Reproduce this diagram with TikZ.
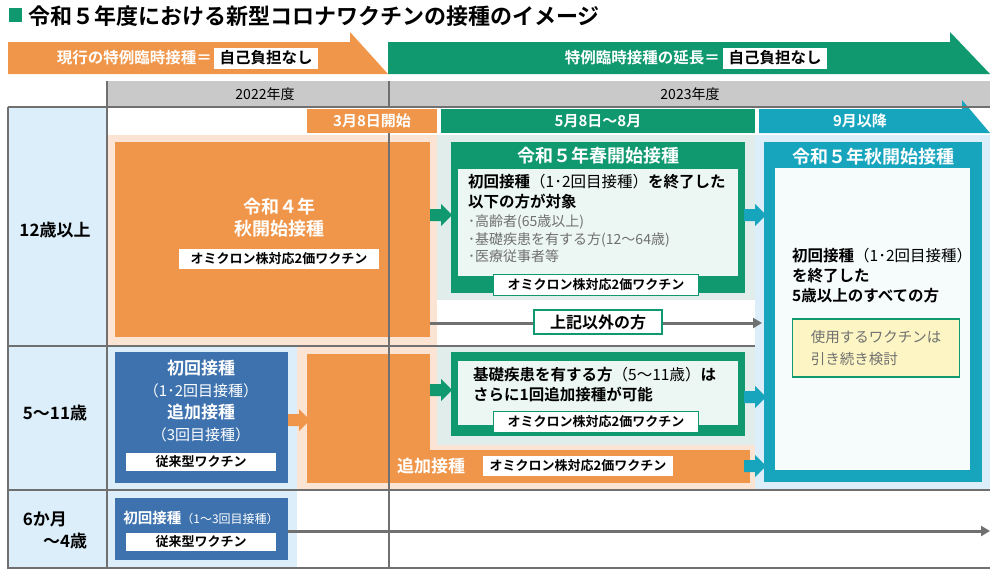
\documentclass[tikz,border=0pt]{standalone}
\usepackage{fontspec}
\setmainfont{Noto Sans CJK JP}
\newfontfamily\bfj{Noto Sans CJK JP Bold}
\usetikzlibrary{arrows.meta}
\definecolor{org}{HTML}{F0964B}
\definecolor{grn}{HTML}{10996F}
\definecolor{teal}{HTML}{17A5BE}
\definecolor{blu}{HTML}{3D72AE}
\definecolor{lblu}{HTML}{DCEEFA}
\definecolor{peach}{HTML}{FCE4D4}
\definecolor{lgrn}{HTML}{E0EDEA}
\definecolor{gry}{HTML}{C9C9C9}
\definecolor{dgry}{HTML}{707070}
\definecolor{yel}{HTML}{FDF6C4}
\tikzset{
 x=1pt,y=-1pt,
 lab/.style={fill=white,inner sep=2pt,font=\bfj\fontsize{13}{14}\selectfont},
 wt/.style={text=white,font=\bfj\fontsize{18}{22}\selectfont,align=center},
}
\newcommand{\fatarrow}[3]{\fill[#3] (#1-3,#2-6) -- (#1+8,#2-6) -- (#1+8,#2-11) -- (#1+19,#2) -- (#1+8,#2+11) -- (#1+8,#2+6) -- (#1-3,#2+6) -- cycle;}
\begin{document}
\begin{tikzpicture}
\useasboundingbox (0,0) rectangle (1000,573);
\fill[white] (0,0) rectangle (1000,573);
% title
\fill[grn] (9,8) rectangle (22,22);
\node[anchor=west,inner sep=0,font=\bfj\fontsize{22}{24}\selectfont] (title) at (28,16) {令和５年度における新型コロナワクチンの接種のイメージ};
% banners
\fill[org] (8,42) -- (350,42) -- (350,32) -- (388,74) -- (8,74) -- cycle;
\node[anchor=east,text=white,font=\bfj\fontsize{15.5}{16}\selectfont,inner sep=0] (b1) at (212,58) {現行の特例臨時接種＝};
\node[lab,font=\bfj\fontsize{15.5}{16}\selectfont,minimum width=104pt,minimum height=21pt] (b1b) at (266,58) {自己負担なし};
\fill[grn] (388,42) -- (950,42) -- (950,32) -- (990,74) -- (388,74) -- cycle;
\node[anchor=east,text=white,font=\bfj\fontsize{15.5}{16}\selectfont,inner sep=0] (b2) at (720,58) {特例臨時接種の延長＝};
\node[lab,font=\bfj\fontsize{15.5}{16}\selectfont,minimum width=104pt,minimum height=21pt] (b2b) at (775,58) {自己負担なし};
% year bar
\fill[gry] (107,81) rectangle (990,106);
\node[font=\fontsize{14}{15}\selectfont] (y22) at (265,94) {2022年度};
\node[font=\fontsize{14}{15}\selectfont] (y23) at (690,94) {2023年度};
% row label column
\fill[lblu] (8,107) rectangle (107,568);
% backgrounds
\fill[peach] (107,135) rectangle (437,346);
\fill[lgrn] (437,135) rectangle (755,300);
\fill[white] (437,300) rectangle (755,346);
\fill[lblu] (755,135) rectangle (990,490);
\fill[lblu] (107,346) rectangle (297,490);
\fill[peach] (297,346) rectangle (437,490);
\fill[lgrn] (437,346) rectangle (755,445);
\fill[peach] (437,445) rectangle (755,490);
\fill[lblu] (107,490) rectangle (297,568);
% headers
\fill[org] (307,109) rectangle (437,133);
\node[wt,font=\bfj\fontsize{15}{16}\selectfont] (h1) at (372,121) {3月8日開始};
\fill[grn] (441,109) rectangle (755,133);
\node[wt,font=\bfj\fontsize{15}{16}\selectfont] (h2) at (598,121) {5月8日～8月};
\fill[teal] (759,109) -- (962,109) -- (962,100) -- (990,133) -- (759,133) -- cycle;
\node[wt,font=\bfj\fontsize{15}{16}\selectfont] (h3) at (860,121) {9月以降};
% grid lines
\draw[dgry,line width=1.2pt] (8,107) -- (990,107);
\draw[dgry,line width=1.2pt] (8,107) -- (8,568) -- (990,568);
\draw[dgry,line width=1.2pt] (8,346) -- (755,346);
\draw[dgry,line width=1.2pt] (8,490) -- (990,490);
\draw[dgry,line width=1.2pt] (107,81) -- (107,568);
% row labels
\node[font=\bfj\fontsize{17}{19}\selectfont] (r1) at (55,230) {12歳以上};
\node[font=\bfj\fontsize{17}{19}\selectfont] (r2) at (55,413) {5～11歳};
\node[font=\bfj\fontsize{17}{22}\selectfont,align=left] (r3) at (55,530) {6か月\\\hspace*{1.2em}～4歳};
% Reiwa4 box
\fill[org] (115,142) rectangle (430,337);
\node[wt] (r4) at (279,218) {令和４年\\秋開始接種};
\node[lab,minimum width=200pt,minimum height=20pt] (r4v) at (279,259) {オミクロン株対応2価ワクチン};
% row2 orange
\fill[org] (307,354) rectangle (430,483);
\fill[org] (307,450) rectangle (750,483);
\node[wt,anchor=west,font=\bfj\fontsize{17}{19}\selectfont,inner sep=0] (tsuika) at (397,466) {追加接種};
\node[lab,minimum width=190pt,minimum height=20pt] (tsv) at (578,466) {オミクロン株対応2価ワクチン};
% blue boxes
\fill[blu] (115,352) rectangle (288,483);
\node[text=white,align=center,font=\fontsize{15}{22}\selectfont] (bl) at (201,401) {{\bfj\fontsize{17}{22}\selectfont 初回接種}\\（1･2回目接種）\\{\bfj\fontsize{17}{22}\selectfont 追加接種}\\（3回目接種）};
\node[lab,minimum width=150pt,minimum height=18pt] (blv) at (201,462) {従来型ワクチン};
\fill[blu] (115,498) rectangle (288,560);
\node[text=white,font=\fontsize{12}{13}\selectfont,inner sep=0] (bl3) at (201,518) {{\bfj\fontsize{14.5}{15}\selectfont 初回接種}（1～3回目接種）};
\node[lab,minimum width=150pt,minimum height=18pt] (bl3v) at (201,542) {従来型ワクチン};
% vertical divider
\draw[dgry,line width=1.2pt] (389,81) -- (389,106);
\draw[dgry,line width=1.2pt] (389,133) -- (389,568);
% green boxes
\fill[grn] (451,142) rectangle (745,293);
\node[wt] (g1t) at (598,156) {令和５年春開始接種};
\fill[white!92!grn] (458,169) rectangle (738,276);
\node[anchor=north west,align=left,inner sep=0,font=\bfj\fontsize{15.5}{20}\selectfont] (g1a) at (468,174) {初回接種{\normalfont（1･2回目接種）}を終了した\\以下の方が対象};
\node[anchor=north west,align=left,inner sep=0,text=dgry,font=\fontsize{14}{17.5}\selectfont] (g1b) at (468,215) {･高齢者(65歳以上)\\･基礎疾患を有する方(12～64歳)\\･医療従事者等};
\node[lab,draw=grn,line width=1.5pt,minimum width=205pt,minimum height=21pt] (g1v) at (596,285) {オミクロン株対応2価ワクチン};
\fill[grn] (451,352) rectangle (745,436);
\fill[white!92!grn] (458,361) rectangle (738,425);
\node[anchor=north west,align=left,inner sep=0,font=\bfj\fontsize{15.5}{20}\selectfont] (g2a) at (473,367) {基礎疾患を有する方{\normalfont（5～11歳）}は\\さらに1回追加接種が可能};
\node[lab,draw=grn,line width=1.5pt,minimum width=205pt,minimum height=21pt] (g2v) at (596,422) {オミクロン株対応2価ワクチン};
% teal box
\fill[teal] (764,142) rectangle (982,482);
\node[wt] (t1) at (873,157) {令和５年秋開始接種};
\fill[white!96!teal] (775,168) rectangle (970,470);
\node[anchor=north west,align=left,inner sep=0,font=\bfj\fontsize{15.5}{20}\selectfont] (t2) at (792,248) {初回接種{\normalfont（1･2回目接種）}\\を終了した\\5歳以上のすべての方};
\node[draw=grn,line width=1.5pt,fill=yel,minimum width=167pt,minimum height=58pt,align=left,text=dgry,font=\fontsize{14.5}{22}\selectfont] (ty) at (876,348) {使用するワクチンは\\引き続き検討};
% fat arrows
\fatarrow{433}{215}{grn}
\fatarrow{433}{390}{grn}
\fatarrow{291}{420}{org}
\fatarrow{747}{215}{teal}
\fatarrow{747}{397}{teal}
\fatarrow{747}{466}{teal}
% gray arrows
\coordinate (ga1) at (430,323);
\coordinate (ga2) at (762,323);
\draw[dgry,line width=3pt,-{Triangle[length=9pt,width=10pt]}] (ga1) -- (ga2);
\node[draw=grn,line width=1.5pt,fill=white,minimum width=128pt,minimum height=24pt,font=\bfj\fontsize{16}{17}\selectfont] (other) at (598,322) {上記以外の方};
\coordinate (gb1) at (288,531);
\coordinate (gb2) at (990,531);
\draw[dgry,line width=3pt,-{Triangle[length=9pt,width=10pt]}] (gb1) -- (gb2);
\end{tikzpicture}
\end{document}
